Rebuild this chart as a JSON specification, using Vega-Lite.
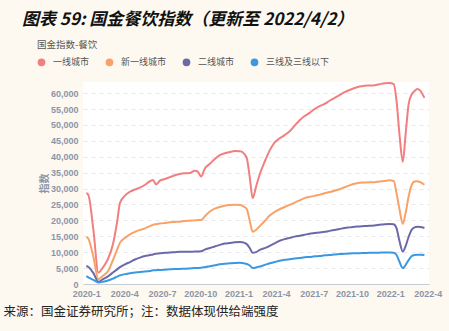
{
  "$schema": "https://vega.github.io/schema/vega-lite/v6.json",
  "width": 346,
  "height": 202,
  "autosize": {"type": "none"},
  "padding": {"left": 83, "top": 82, "right": 20, "bottom": 47},
  "background": "#fdf9f0",
  "view": {"fill": "white", "stroke": null},
  "title": {
    "text": "图表 59: 国金餐饮指数（更新至 2022/4/2）",
    "anchor": "start",
    "frame": "group",
    "dx": -61,
    "offset": 11,
    "font": "Noto Sans CJK SC",
    "fontSize": 17,
    "fontStyle": "italic",
    "fontWeight": "bold",
    "color": "#111111"
  },
  "data": {
    "values": [
      {"date": "2020-01-01", "一线城市": 28600, "新一线城市": 14800, "二线城市": 5660, "三线及三线以下": 2500},
      {"date": "2020-01-06", "一线城市": 28000, "新一线城市": 14200, "二线城市": 5350, "三线及三线以下": 2100},
      {"date": "2020-01-18", "一线城市": 17000, "新一线城市": 8500, "二线城市": 3400, "三线及三线以下": 1300},
      {"date": "2020-01-30", "一线城市": 3600, "新一线城市": 1500, "二线城市": 700, "三线及三线以下": 500},
      {"date": "2020-02-10", "一线城市": 5200, "新一线城市": 2600, "二线城市": 1500, "三线及三线以下": 700},
      {"date": "2020-02-22", "一线城市": 7800, "新一线城市": 4000, "二线城市": 2400, "三线及三线以下": 1100},
      {"date": "2020-03-05", "一线城市": 12500, "新一线城市": 7500, "二线城市": 3600, "三线及三线以下": 1700},
      {"date": "2020-03-15", "一线城市": 19500, "新一线城市": 10800, "二线城市": 4600, "三线及三线以下": 2300},
      {"date": "2020-03-22", "一线城市": 25500, "新一线城市": 13000, "二线城市": 5300, "三线及三线以下": 2700},
      {"date": "2020-04-03", "一线城市": 27800, "新一线城市": 14500, "二线城市": 6200, "三线及三线以下": 3100},
      {"date": "2020-04-15", "一线城市": 29000, "新一线城市": 15600, "二线城市": 6900, "三线及三线以下": 3400},
      {"date": "2020-04-27", "一线城市": 29700, "新一线城市": 16400, "二线城市": 7700, "三线及三线以下": 3600},
      {"date": "2020-05-09", "一线城市": 30300, "新一线城市": 17000, "二线城市": 8300, "三线及三线以下": 3800},
      {"date": "2020-05-21", "一线城市": 31200, "新一线城市": 17500, "二线城市": 8800, "三线及三线以下": 3900},
      {"date": "2020-06-02", "一线城市": 32300, "新一线城市": 18200, "二线城市": 9100, "三线及三线以下": 4100},
      {"date": "2020-06-09", "一线城市": 32700, "新一线城市": 18600, "二线城市": 9300, "三线及三线以下": 4300},
      {"date": "2020-06-17", "一线城市": 31300, "新一线城市": 18800, "二线城市": 9500, "三线及三线以下": 4350},
      {"date": "2020-06-26", "一线城市": 32500, "新一线城市": 19000, "二线城市": 9700, "三线及三线以下": 4400},
      {"date": "2020-07-08", "一线城市": 33000, "新一线城市": 19200, "二线城市": 9800, "三线及三线以下": 4500},
      {"date": "2020-07-20", "一线城市": 33600, "新一线城市": 19400, "二线城市": 9900, "三线及三线以下": 4600},
      {"date": "2020-08-01", "一线城市": 34200, "新一线城市": 19500, "二线城市": 10000, "三线及三线以下": 4700},
      {"date": "2020-08-13", "一线城市": 34600, "新一线城市": 19600, "二线城市": 10100, "三线及三线以下": 4750},
      {"date": "2020-08-25", "一线城市": 34800, "新一线城市": 19800, "二线城市": 10100, "三线及三线以下": 4800},
      {"date": "2020-09-06", "一线城市": 34900, "新一线城市": 19900, "二线城市": 10100, "三线及三线以下": 4900},
      {"date": "2020-09-18", "一线城市": 35600, "新一线城市": 20000, "二线城市": 10200, "三线及三线以下": 5000},
      {"date": "2020-09-25", "一线城市": 35300, "新一线城市": 20100, "二线城市": 10200, "三线及三线以下": 5000},
      {"date": "2020-10-03", "一线城市": 33800, "新一线城市": 20100, "二线城市": 10300, "三线及三线以下": 5100},
      {"date": "2020-10-12", "一线城市": 36300, "新一线城市": 21300, "二线城市": 10800, "三线及三线以下": 5300},
      {"date": "2020-10-24", "一线城市": 37800, "新一线城市": 22800, "二线城市": 11300, "三线及三线以下": 5600},
      {"date": "2020-11-05", "一线城市": 39300, "新一线城市": 23700, "二线城市": 11800, "三线及三线以下": 5900},
      {"date": "2020-11-17", "一线城市": 40500, "新一线城市": 24200, "二线城市": 12300, "三线及三线以下": 6200},
      {"date": "2020-11-29", "一线城市": 41100, "新一线城市": 24600, "二线城市": 12700, "三线及三线以下": 6400},
      {"date": "2020-12-11", "一线城市": 41500, "新一线城市": 24800, "二线城市": 12900, "三线及三线以下": 6500},
      {"date": "2020-12-23", "一线城市": 41800, "新一线城市": 24900, "二线城市": 13100, "三线及三线以下": 6600},
      {"date": "2021-01-05", "一线城市": 41700, "新一线城市": 24800, "二线城市": 13200, "三线及三线以下": 6650},
      {"date": "2021-01-14", "一线城市": 41000, "新一线城市": 24300, "二线城市": 13000, "三线及三线以下": 6500},
      {"date": "2021-01-21", "一线城市": 39500, "新一线城市": 23500, "二线城市": 12500, "三线及三线以下": 6300},
      {"date": "2021-01-28", "一线城市": 33500, "新一线城市": 19800, "二线城市": 11300, "三线及三线以下": 5800},
      {"date": "2021-02-04", "一线城市": 27000, "新一线城市": 16400, "二线城市": 9800, "三线及三线以下": 5000},
      {"date": "2021-02-12", "一线城市": 30500, "新一线城市": 17000, "二线城市": 10000, "三线及三线以下": 5200},
      {"date": "2021-02-21", "一线城市": 34500, "新一线城市": 18200, "二线城市": 10700, "三线及三线以下": 5500},
      {"date": "2021-03-05", "一线城市": 38500, "新一线城市": 19800, "二线城市": 11300, "三线及三线以下": 6000},
      {"date": "2021-03-17", "一线城市": 42000, "新一线城市": 21500, "二线城市": 12000, "三线及三线以下": 6500},
      {"date": "2021-03-29", "一线城市": 44500, "新一线城市": 22700, "二线城市": 12800, "三线及三线以下": 6900},
      {"date": "2021-04-10", "一线城市": 45800, "新一线城市": 23500, "二线城市": 13600, "三线及三线以下": 7300},
      {"date": "2021-04-22", "一线城市": 46800, "新一线城市": 24200, "二线城市": 14100, "三线及三线以下": 7600},
      {"date": "2021-05-04", "一线城市": 48000, "新一线城市": 24900, "二线城市": 14500, "三线及三线以下": 7800},
      {"date": "2021-05-16", "一线城市": 49800, "新一线城市": 25600, "二线城市": 14900, "三线及三线以下": 8000},
      {"date": "2021-05-28", "一线城市": 51500, "新一线城市": 26300, "二线城市": 15200, "三线及三线以下": 8200},
      {"date": "2021-06-09", "一线城市": 52800, "新一线城市": 27000, "二线城市": 15500, "三线及三线以下": 8400},
      {"date": "2021-06-21", "一线城市": 53800, "新一线城市": 27400, "二线城市": 15800, "三线及三线以下": 8500},
      {"date": "2021-07-03", "一线城市": 55000, "新一线城市": 27700, "二线城市": 16000, "三线及三线以下": 8700},
      {"date": "2021-07-15", "一线城市": 55900, "新一线城市": 28100, "二线城市": 16200, "三线及三线以下": 8800},
      {"date": "2021-07-27", "一线城市": 56600, "新一线城市": 28500, "二线城市": 16400, "三线及三线以下": 9000},
      {"date": "2021-08-08", "一线城市": 57600, "新一线城市": 28900, "二线城市": 16700, "三线及三线以下": 9100},
      {"date": "2021-08-20", "一线城市": 58500, "新一线城市": 29300, "二线城市": 17000, "三线及三线以下": 9300},
      {"date": "2021-09-01", "一线城市": 59400, "新一线城市": 29800, "二线城市": 17300, "三线及三线以下": 9400},
      {"date": "2021-09-13", "一线城市": 60300, "新一线城市": 30400, "二线城市": 17600, "三线及三线以下": 9500},
      {"date": "2021-09-25", "一线城市": 61000, "新一线城市": 31000, "二线城市": 17800, "三线及三线以下": 9600},
      {"date": "2021-10-07", "一线城市": 61600, "新一线城市": 31500, "二线城市": 18000, "三线及三线以下": 9650},
      {"date": "2021-10-19", "一线城市": 62100, "新一线城市": 31800, "二线城市": 18100, "三线及三线以下": 9700},
      {"date": "2021-10-31", "一线城市": 62300, "新一线城市": 31900, "二线城市": 18200, "三线及三线以下": 9750},
      {"date": "2021-11-12", "一线城市": 62400, "新一线城市": 32000, "二线城市": 18300, "三线及三线以下": 9800},
      {"date": "2021-11-24", "一线城市": 62500, "新一线城市": 32000, "二线城市": 18400, "三线及三线以下": 9800},
      {"date": "2021-12-06", "一线城市": 62800, "新一线城市": 32200, "二线城市": 18600, "三线及三线以下": 9850},
      {"date": "2021-12-18", "一线城市": 63100, "新一线城市": 32400, "二线城市": 18800, "三线及三线以下": 9900},
      {"date": "2021-12-30", "一线城市": 63200, "新一线城市": 32600, "二线城市": 18900, "三线及三线以下": 9900},
      {"date": "2022-01-09", "一线城市": 62800, "新一线城市": 32400, "二线城市": 18800, "三线及三线以下": 9800},
      {"date": "2022-01-16", "一线城市": 57500, "新一线城市": 28500, "二线城市": 17500, "三线及三线以下": 9100},
      {"date": "2022-01-23", "一线城市": 47000, "新一线城市": 23500, "二线城市": 13500, "三线及三线以下": 7000},
      {"date": "2022-01-31", "一线城市": 38400, "新一线城市": 18900, "二线城市": 10200, "三线及三线以下": 5000},
      {"date": "2022-02-07", "一线城市": 47500, "新一线城市": 22500, "二线城市": 12000, "三线及三线以下": 6000},
      {"date": "2022-02-14", "一线城市": 56500, "新一线城市": 27500, "二线城市": 14800, "三线及三线以下": 7500},
      {"date": "2022-02-21", "一线城市": 59500, "新一线城市": 31000, "二线城市": 17000, "三线及三线以下": 8700},
      {"date": "2022-02-28", "一线城市": 60600, "新一线城市": 32200, "二线城市": 17800, "三线及三线以下": 9100},
      {"date": "2022-03-07", "一线城市": 61300, "新一线城市": 32300, "二线城市": 18000, "三线及三线以下": 9200},
      {"date": "2022-03-14", "一线城市": 60800, "新一线城市": 32000, "二线城市": 17900, "三线及三线以下": 9200},
      {"date": "2022-03-24", "一线城市": 58500, "新一线城市": 31200, "二线城市": 17600, "三线及三线以下": 9100}
    ]
  },
  "transform": [
    {"fold": ["一线城市", "新一线城市", "二线城市", "三线及三线以下"], "as": ["city", "value"]}
  ],
  "mark": {"type": "line", "strokeWidth": 2, "interpolate": "monotone"},
  "encoding": {
    "x": {
      "field": "date",
      "type": "temporal",
      "scale": {"domain": ["2019-12-24", "2022-04-04"]},
      "axis": {
        "values": ["2020-01-01", "2020-04-01", "2020-07-01", "2020-10-01", "2021-01-01", "2021-04-01", "2021-07-01", "2021-10-01", "2022-01-01", "2022-04-01"],
        "format": "%Y-%-m",
        "grid": false,
        "ticks": false,
        "domain": true,
        "domainColor": "#c9cdd4",
        "labelFont": "Liberation Sans",
        "labelFontSize": 9,
        "labelFontWeight": "bold",
        "labelColor": "#8c95a8",
        "labelPadding": 5,
        "labelOverlap": false,
        "title": "来源：国金证券研究所；注：数据体现供给端强度",
        "titleAnchor": "start",
        "titleAlign": "left",
        "titleX": -80,
        "titleY": 27,
        "titleBaseline": "middle",
        "titleFont": "Noto Sans CJK SC",
        "titleFontSize": 12.5,
        "titleFontWeight": "normal",
        "titleColor": "#222222"
      }
    },
    "y": {
      "field": "value",
      "type": "quantitative",
      "scale": {"domain": [0, 63500], "nice": false},
      "axis": {
        "values": [0, 5000, 10000, 15000, 20000, 25000, 30000, 35000, 40000, 45000, 50000, 55000, 60000],
        "format": ",d",
        "grid": true,
        "gridColor": "#e9e9e9",
        "gridDash": [4, 4],
        "ticks": false,
        "domain": false,
        "labelFont": "Liberation Sans",
        "labelFontSize": 9,
        "labelFontWeight": "bold",
        "labelColor": "#8c95a8",
        "labelPadding": 5,
        "title": "指数",
        "titleFont": "Noto Sans CJK SC",
        "titleFontSize": 10,
        "titleFontWeight": "bold",
        "titleColor": "#8c95a8",
        "titlePadding": 1
      }
    },
    "color": {
      "field": "city",
      "type": "nominal",
      "scale": {
        "domain": ["一线城市", "新一线城市", "二线城市", "三线及三线以下"],
        "range": ["#f27f80", "#f9a268", "#6c69a8", "#3a98e2"]
      },
      "legend": {
        "title": "国金指数-餐饮",
        "orient": "none",
        "direction": "horizontal",
        "legendX": -46,
        "legendY": -42,
        "padding": 0,
        "titleFont": "Noto Sans CJK SC",
        "titleFontSize": 9.5,
        "titleFontWeight": "normal",
        "titleColor": "#555555",
        "titlePadding": 8,
        "symbolType": "circle",
        "symbolSize": 14,
        "symbolStrokeWidth": 4,
        "labelFont": "Noto Sans CJK SC",
        "labelFontSize": 9,
        "labelColor": "#555555",
        "labelOffset": 7,
        "columnPadding": 9
      }
    }
  }
}
